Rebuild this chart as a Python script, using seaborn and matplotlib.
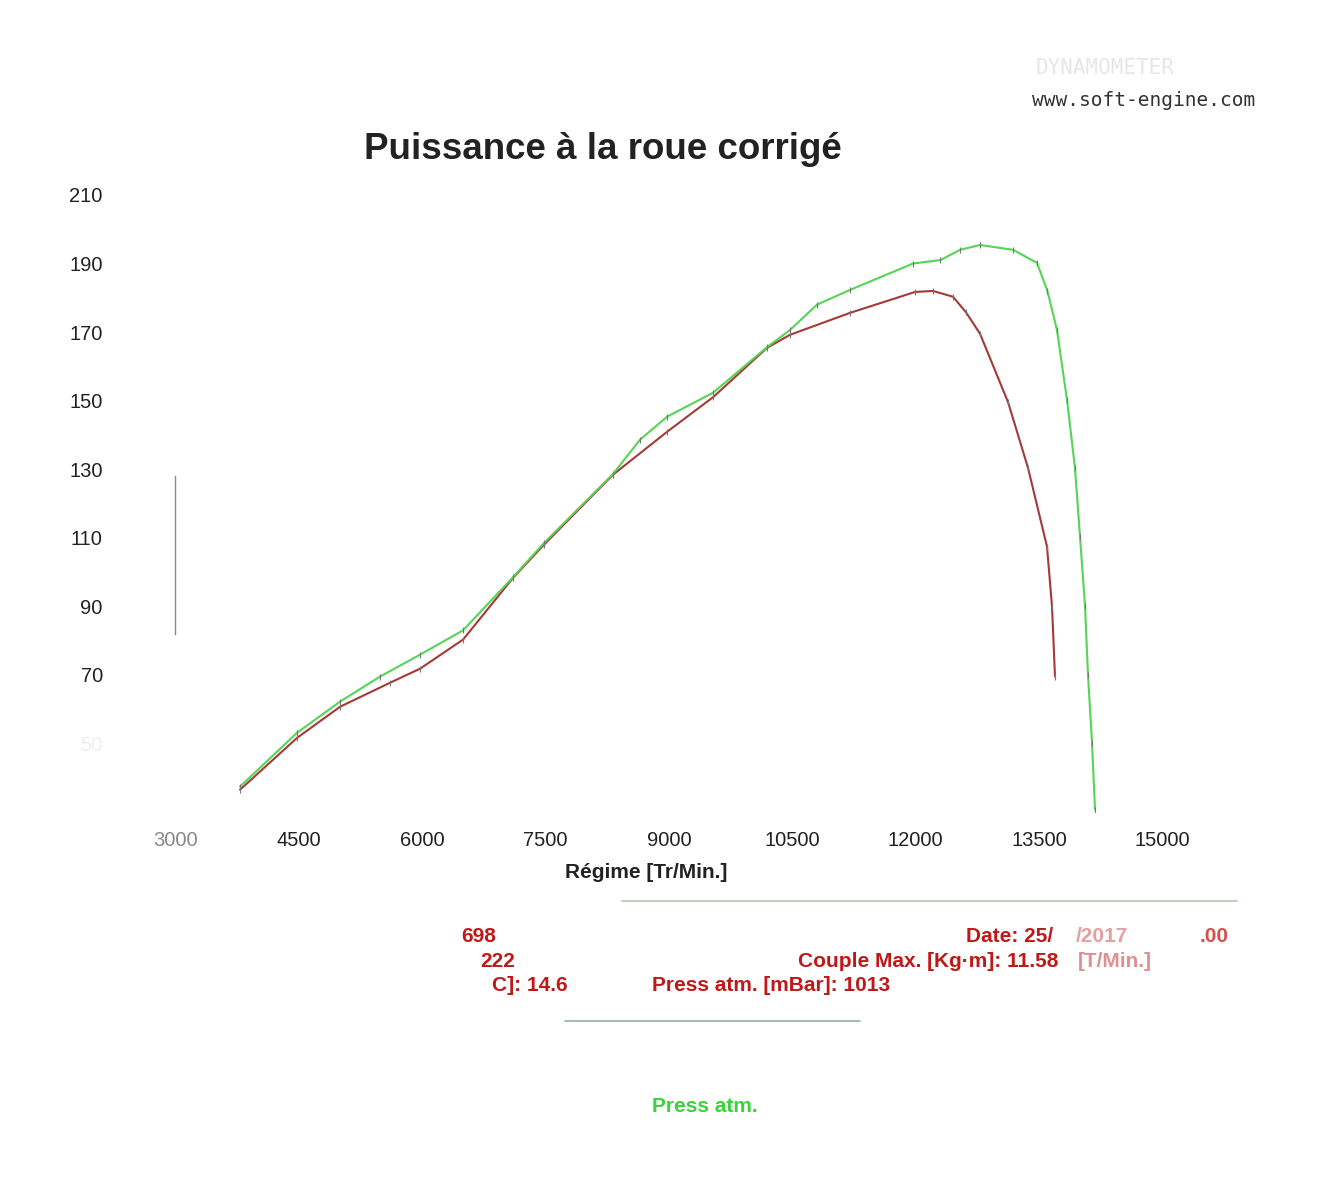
import numpy as np
import pandas as pd
import seaborn as sns
from matplotlib import pyplot as plt

sns.set_theme(style="white")
plt.rcParams['font.family'] = ['Liberation Sans', 'DejaVu Sans']

# run 1 (red) - wheel power, corrected
rpm_red = [3790, 4482, 5005, 5612, 5977, 6500, 7107, 7484, 8322, 8978, 9537,
           10193, 10472, 11201, 11991, 12210, 12453, 12610, 12781, 13121, 13364,
           13595, 13656, 13692]
pow_red = [36.5, 51.6, 60.7, 67.7, 71.8, 80.3, 98.3, 108.0, 128.4, 140.9, 151.0,
           165.4, 169.2, 175.6, 181.7, 182.0, 180.3, 175.8, 169.5, 149.6, 130.4,
           107.4, 89.9, 69.5]

# run 2 (green)
rpm_green = [3790, 4482, 5005, 5491, 5977, 6500, 7107, 7484, 8322, 8650, 8978,
             9537, 10193, 10472, 10800, 11201, 11967, 12300, 12538, 12781, 13182,
             13473, 13600, 13716, 13838, 13935, 13996, 14057, 14093, 14142, 14178]
pow_green = [37.4, 53.1, 62.2, 69.5, 75.9, 83.0, 98.5, 108.5, 128.6, 138.6, 145.3,
             152.3, 165.6, 170.6, 178.0, 182.3, 190.0, 191.0, 194.0, 195.4, 194.0,
             190.2, 182.0, 170.6, 150.2, 130.4, 110.3, 90.0, 70.0, 50.2, 30.7]

x_ticks = [3000, 4500, 6000, 7500, 9000, 10500, 12000, 13500, 15000]
y_ticks = [50, 70, 90, 110, 130, 150, 170, 190, 210]

df = pd.concat([
    pd.DataFrame({'rpm': rpm_red, 'power': pow_red, 'run': 'red'}),
    pd.DataFrame({'rpm': rpm_green, 'power': pow_green, 'run': 'green'}),
], ignore_index=True)

fig = plt.figure(figsize=(13.23, 11.78), dpi=100)
ax = fig.add_axes([0.1323, 0.3107, 0.8087, 0.5238])

sns.lineplot(data=df, x='rpm', y='power', hue='run', sort=False, ax=ax,
             palette={'red': '#a83838', 'green': '#55d455'}, linewidth=1.5,
             marker='|', markersize=5, markeredgewidth=0.8,
             markeredgecolor='#777777', legend=False)

ax.set_xlim(3000, 16000)
ax.set_ylim(30, 210)
ax.set_xticks(x_ticks)
ax.set_yticks(y_ticks)
ax.set_xticklabels([str(t) for t in x_ticks])
ax.set_yticklabels([str(t) for t in y_ticks])
ax.tick_params(axis='both', length=0, labelsize=14.5, colors='#222222')
ax.tick_params(axis='y', pad=52)
ax.tick_params(axis='x', pad=14)
for lbl in ax.get_yticklabels() + ax.get_xticklabels():
    lbl.set_fontweight('medium')
ax.get_xticklabels()[0].set_color('#888888')
ax.get_yticklabels()[0].set_color('#eeeeee')

for side in ['top', 'right', 'bottom']:
    ax.spines[side].set_visible(False)
ax.spines['left'].set_bounds(82, 128)
ax.spines['left'].set_color('#8a8a8a')
ax.spines['left'].set_linewidth(1.0)

ax.set_xlabel('Régime [Tr/Min.]', fontsize=15, fontweight='bold', color='#222222')
ax.xaxis.set_label_coords(0.44, -0.083)
ax.set_ylabel('')

fig.text(0.456, 0.8735, 'Puissance à la roue corrigé', ha='center', va='center',
         fontsize=26.5, fontweight='bold', color='#222222')

# watermark
fig.text(0.835, 0.942, 'DYNAMOMETER', ha='center', va='center', fontsize=15,
         color='#e6e6e6', family='DejaVu Sans Mono')
fig.text(0.949, 0.915, 'www.soft-engine.com', ha='right', va='center', fontsize=14,
         color='#333333', family='DejaVu Sans Mono')

# info block
red = '#c01818'
fs = 15
fig.add_artist(plt.Line2D([0.47, 0.935], [0.2355, 0.2355], color='#8fb08f', lw=1.2, alpha=0.7))
fig.add_artist(plt.Line2D([0.427, 0.65], [0.133, 0.133], color='#6f8f7f', lw=1.2, alpha=0.7))
fig.text(0.375, 0.205, '698', ha='right', va='center', fontsize=fs, fontweight='bold', color=red)
fig.text(0.389, 0.184, '222', ha='right', va='center', fontsize=fs, fontweight='bold', color=red)
fig.text(0.429, 0.163, 'C]: 14.6', ha='right', va='center', fontsize=fs, fontweight='bold', color=red)
fig.text(0.730, 0.205, 'Date: 25/', ha='left', va='center', fontsize=fs,
         fontweight='bold', color=red)
fig.text(0.813, 0.205, '/2017', ha='left', va='center', fontsize=fs,
         fontweight='bold', color='#e4a0a0')
fig.text(0.929, 0.205, '.00', ha='right', va='center', fontsize=fs,
         fontweight='bold', color='#d45050')
fig.text(0.603, 0.184, 'Couple Max. [Kg·m]: 11.58', ha='left', va='center', fontsize=fs,
         fontweight='bold', color=red)
fig.text(0.815, 0.184, '[T/Min.]', ha='left', va='center', fontsize=fs,
         fontweight='bold', color='#e09090')
fig.text(0.493, 0.163, 'Press atm. [mBar]: 1013', ha='left', va='center', fontsize=fs,
         fontweight='bold', color=red)
fig.text(0.493, 0.061, 'Press atm.', ha='left', va='center', fontsize=fs,
         fontweight='bold', color='#3cd23c')

plt.savefig('out.png', dpi=100, facecolor='white')
plt.close()
